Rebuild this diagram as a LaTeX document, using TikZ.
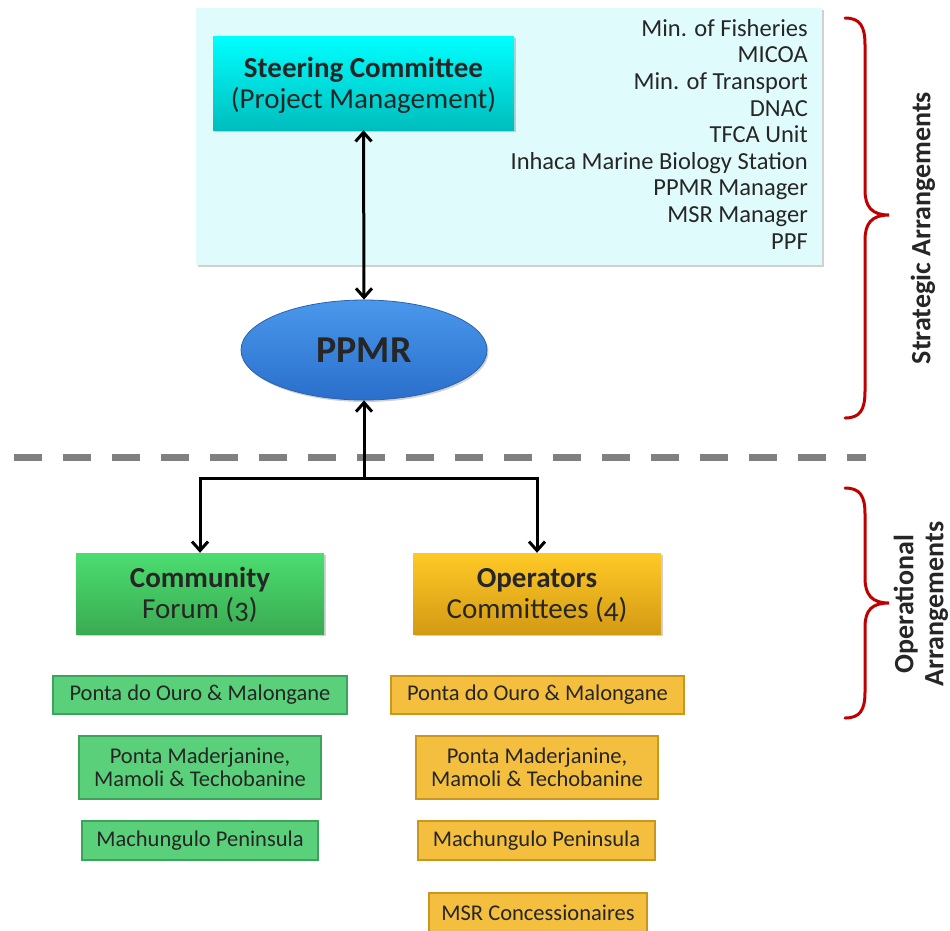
\documentclass[tikz,border=0pt]{standalone}
\usepackage{fontspec}
\setmainfont[Numbers=OldStyle]{Carlito}
\usetikzlibrary{shapes.geometric,arrows.meta,shadows}
\definecolor{txt}{HTML}{262626}
\definecolor{panelc}{HTML}{E0FBFB}
\definecolor{cyantop}{HTML}{00FFFF}
\definecolor{cyanbot}{HTML}{00BDBD}
\definecolor{bluetop}{HTML}{4A98EC}
\definecolor{bluebot}{HTML}{2A6FCB}
\definecolor{blueedge}{HTML}{2B62B0}
\definecolor{greentop}{HTML}{4CDD70}
\definecolor{greenbot}{HTML}{3AAB52}
\definecolor{yeltop}{HTML}{FFC926}
\definecolor{yelbot}{HTML}{D39A14}
\definecolor{gfill}{HTML}{5BD07A}
\definecolor{gedge}{HTML}{3CA35A}
\definecolor{yfill}{HTML}{F4BF3E}
\definecolor{yedge}{HTML}{C9971E}
\definecolor{bracec}{HTML}{C00000}
\definecolor{dashc}{HTML}{808080}
\tikzset{
  shd/.style={drop shadow={shadow xshift=1.5pt,shadow yshift=-2pt,opacity=0.3,fill=black!60}},
  bigbox/.style={shd,minimum width=#1,inner sep=0pt,align=center,text=txt,font=\fontsize{29}{31}\selectfont},
  bigtext/.style={inner sep=0pt,align=center,text=txt,font=\fontsize{29}{31}\selectfont},
  gsmall/.style={draw=gedge,fill=gfill,line width=2.5pt,inner sep=0pt,align=center,text=txt,font=\fontsize{22.5}{23.5}\selectfont},
  ysmall/.style={draw=yedge,fill=yfill,line width=2.5pt,inner sep=0pt,align=center,text=txt,font=\fontsize{22.5}{23.5}\selectfont},
  arr/.style={line width=3pt,black,-{Straight Barb[length=9pt,width=16pt]}},
  darr/.style={line width=3pt,black,{Straight Barb[length=9pt,width=16pt]}-{Straight Barb[length=9pt,width=16pt]}},
  bracestyle/.style={draw=bracec,line width=3pt,line cap=round},
  sidelabel/.style={rotate=90,text=txt,align=center,font=\fontsize{28}{30}\selectfont\bfseries}
}
\begin{document}
\begin{tikzpicture}[x=1pt,y=-1pt]
\useasboundingbox (0,0) rectangle (950,930);
% panel
\node[shd,fill=panelc,minimum width=626pt,minimum height=257pt,inner sep=0pt] (panel) at (509,136.5) {};
% steering committee
\node[bigbox=301pt,minimum height=94pt,top color=cyantop,bottom color=cyanbot] (sc) at (363.5,83) {};
\node[bigtext] (sctext) at (363.5,85) {\textbf{Steering Committee}\\(Project Management)};
% list
\node[anchor=north east,inner sep=0pt,align=right,text=txt,font=\fontsize{24.5}{26.6}\selectfont] (list) at (808,19)
  {Min. of Fisheries\\MICOA\\Min. of Transport\\DNAC\\TFCA Unit\\Inhaca Marine Biology Station\\PPMR Manager\\MSR Manager\\PPF};
% PPMR
\node[ellipse,shd,draw=blueedge,line width=0.8pt,top color=bluetop,bottom color=bluebot,minimum width=246pt,minimum height=100pt,inner sep=0pt,text=txt,font=\fontsize{38}{42}\selectfont\bfseries] (ppmr) at (364,350) {PPMR};
% dashed separator
\coordinate (dl) at (14,457);
\coordinate (dr) at (866,457);
\draw[dashc,line width=7pt,dash pattern=on 28pt off 21pt] (dl) -- (dr);
% lower boxes
\node[bigbox=248pt,minimum height=81pt,top color=greentop,bottom color=greenbot] (cf) at (200,593.5) {};
\node[bigtext] (cftext) at (200,595) {\textbf{Community}\\Forum (3)};
\node[bigbox=248pt,minimum height=81pt,top color=yeltop,bottom color=yelbot] (oc) at (537,593.5) {};
\node[bigtext] (octext) at (537,595) {\textbf{Operators}\\Committees (4)};
% connectors
\draw[darr] (sc.south) -- (ppmr.north);
\coordinate (j) at (364,478);
\draw[arr] (j) -- (ppmr.south);
\draw[arr] (j) -| (cf.north);
\draw[arr] (j) -| (oc.north);
% green small boxes
\node[gsmall,minimum width=294pt,minimum height=38pt] (g1) at (200,695) {Ponta do Ouro \& Malongane};
\node[gsmall,minimum width=242pt,minimum height=63pt] (g2) at (200,767.5) {Ponta Maderjanine,\\Mamoli \& Techobanine};
\node[gsmall,minimum width=236pt,minimum height=39pt] (g3) at (200,840.5) {Machungulo Peninsula};
% yellow small boxes
\node[ysmall,minimum width=293pt,minimum height=38pt] (y1) at (537.5,695) {Ponta do Ouro \& Malongane};
\node[ysmall,minimum width=242pt,minimum height=63pt] (y2) at (537,767.5) {Ponta Maderjanine,\\Mamoli \& Techobanine};
\node[ysmall,minimum width=237pt,minimum height=39pt] (y3) at (536.5,840.5) {Machungulo Peninsula};
\node[ysmall,minimum width=218pt,minimum height=40pt] (y4) at (538,913) {MSR Concessionaires};
% braces
\draw[bracestyle] (845,18) .. controls (860,18) and (865,26) .. (865,45) -- (865,190)
  .. controls (865,207) and (872,215) .. (889,215) .. controls (872,215) and (865,223) .. (865,240)
  -- (865,391) .. controls (865,410) and (860,418) .. (845,418);
\draw[bracestyle] (845,488) .. controls (860,488) and (865,496) .. (865,514) -- (865,578)
  .. controls (865,595) and (872,603) .. (889,603) .. controls (872,603) and (865,610) .. (865,627)
  -- (865,692) .. controls (865,710) and (860,718) .. (845,718);
\node[sidelabel] (strat) at (923,228) {Strategic Arrangements};
\node[sidelabel] (oper) at (921,604) {Operational\\Arrangements};
\end{tikzpicture}
\end{document}
